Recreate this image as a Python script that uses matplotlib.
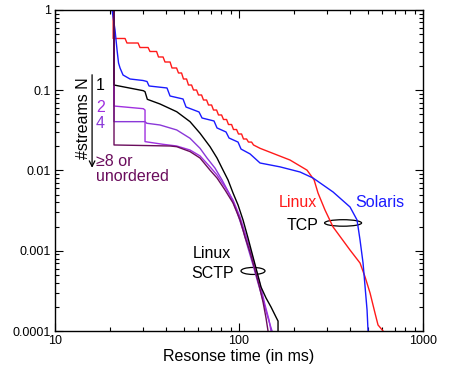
import numpy as np
import matplotlib
matplotlib.use("Agg")
import matplotlib.pyplot as plt
from matplotlib.patches import Ellipse
from matplotlib.transforms import ScaledTranslation

plt.rcParams['font.family'] = ['Liberation Sans', 'DejaVu Sans']

# Linux TCP (red): staircase part (time where each step drops, level after it) ...
red_step_t = [20.7, 24.31, 28.61, 32.43, 36.07, 39.12, 42.70, 46.32, 49.30, 52.49, 55.88, 59.49,
              63.33, 67.43, 71.78, 76.42, 81.35, 86.60, 92.20, 98.13, 104.47, 111.23, 118.42]
red_step_p = [0.4415, 0.3879, 0.3409, 0.3040, 0.2597, 0.2249, 0.1894, 0.1641, 0.1381, 0.1162, 0.1007,
              0.0873, 0.0756, 0.0655, 0.0567, 0.0492, 0.0432, 0.0374, 0.0324, 0.0285, 0.0247, 0.0226, 0.0208]
# ... and the smooth tail
red_tail_t = [130.06, 189.3, 234.2, 255.9, 268.7, 293.2, 324.3, 401.1, 454.6, 484.2, 515.4, 548.3, 569.2, 606.4]
red_tail_p = [0.0189, 0.0135, 0.0101, 0.00762, 0.00524, 0.00322, 0.00198, 0.00102, 0.000703, 0.000471,
              0.000297, 0.000167, 0.000119, 0.0001]

# Solaris TCP (blue)
blue_t = [20.41, 21.19, 21.73, 22.14, 22.56, 23.42, 25.56, 30.08, 31.62, 32.43, 40.61, 42.17, 49.62, 51.52,
          60.61, 62.94, 73.13, 75.93, 84.98, 88.24, 98.76, 102.54, 114.75, 130.06, 167.0, 214.5, 252.5,
          324.3, 401.1, 437.8, 454.6, 472.0, 496.3, 502.5]
blue_p = [1.0, 0.5633, 0.3172, 0.2186, 0.1894, 0.1549, 0.1381, 0.1323, 0.1285, 0.1130, 0.1067, 0.0848,
          0.0778, 0.0618, 0.0536, 0.0451, 0.0414, 0.0339, 0.0302, 0.0254, 0.0226, 0.0185, 0.0161, 0.0124,
          0.0111, 0.00958, 0.00806, 0.00540, 0.00351, 0.00242, 0.00136, 0.000704, 0.000183, 0.0001]

# Linux SCTP, N = 1
sctp1_t = [20.92, 20.92, 30.19, 30.84, 31.74, 37.21, 45.85, 54.16, 61.38, 69.57, 75.93, 80.85, 87.14,
           92.77, 98.76, 105.12, 111.93, 119.15, 125.27, 131.68, 140.18, 149.24, 158.86, 162.92, 162.92]
sctp1_p = [1.0, 0.1162, 0.0987, 0.0959, 0.0771, 0.0674, 0.0540, 0.0406, 0.0291, 0.0198, 0.0143, 0.0107,
           0.00762, 0.00524, 0.00372, 0.00242, 0.00144, 0.000836, 0.000543, 0.000353, 0.000258, 0.000199,
           0.000149, 0.000133, 0.0001]

# Linux SCTP, N = 2
sctp2_t = [20.92, 20.92, 30.19, 30.84, 30.84, 38.64, 45.85, 54.16, 61.38, 69.57, 75.93, 83.95, 92.77,
           101.25, 109.14, 116.19, 123.72, 131.68, 138.43, 145.55, 149.24]
sctp2_p = [1.0, 0.0636, 0.0589, 0.0567, 0.0229, 0.0212, 0.0202, 0.0180, 0.0152, 0.0111, 0.00879, 0.00623,
           0.00429, 0.00263, 0.00153, 0.000965, 0.000575, 0.000343, 0.000211, 0.000137, 0.0001]

# Linux SCTP, N = 4
sctp4_t = [20.92, 20.92, 30.84, 31.50, 37.21, 45.85, 54.16, 61.38, 67.01, 74.06, 80.85, 89.35, 97.53,
           105.12, 111.93, 119.15, 126.84, 135.0, 143.75, 151.11]
sctp4_p = [1.0, 0.0406, 0.0406, 0.0388, 0.0369, 0.0320, 0.0252, 0.0189, 0.0143, 0.0107, 0.00762, 0.00495,
           0.00304, 0.00181, 0.00108, 0.000664, 0.000396, 0.000243, 0.000145, 0.0001]

# Linux SCTP, N >= 8 or unordered
sctp8_t = [20.92, 20.92, 42.17, 45.85, 54.16, 61.38, 69.57, 75.93, 83.95, 92.77, 101.25, 107.79, 114.75,
           122.18, 128.42, 135.0, 140.18, 143.75]
sctp8_p = [1.0, 0.0208, 0.0202, 0.0198, 0.0172, 0.0143, 0.0101, 0.00806, 0.00571, 0.00394, 0.00242,
           0.00148, 0.000965, 0.000575, 0.000374, 0.000230, 0.000145, 0.0001]

# build the red staircase: short slanted drop around each step time
slant = 1.012
red_t = [red_step_t[0], red_step_t[0]]
red_p = [1.0, red_step_p[0]]
for i in range(1, len(red_step_t)):
    red_t += [red_step_t[i] / slant, red_step_t[i] * slant]
    red_p += [red_step_p[i - 1], red_step_p[i]]
red_t += red_tail_t
red_p += red_tail_p

red = '#ff1a1a'
blue = '#1a1aff'
c2 = '#a030e0'
c4 = '#8a38d8'
c8 = '#6a0c5c'

fig = plt.figure(figsize=(4.51, 3.73), dpi=100)
ax = fig.add_axes([0.122, 0.1126, 0.816, 0.8606])

lw = 1.0
ax.plot(red_t, red_p, color=red, lw=lw)
ax.plot(blue_t, blue_p, color=blue, lw=lw)
ax.plot(sctp4_t, sctp4_p, color=c4, lw=lw)
ax.plot(sctp2_t, sctp2_p, color=c2, lw=lw)
ax.plot(sctp1_t, sctp1_p, color='black', lw=lw)
ax.plot(sctp8_t, sctp8_p, color=c8, lw=lw)

ax.set_xscale('log')
ax.set_yscale('log')
ax.set_xlim(10, 1000)
ax.set_ylim(0.0001, 1)

xticks = [10, 100, 1000]
xlabels = ['10', '100', '1000']
yticks = [0.0001, 0.001, 0.01, 0.1, 1]
ylabels = ['0.0001', '0.001', '0.01', '0.1', '1']
ax.set_xticks(xticks)
ax.set_xticklabels(xlabels)
ax.set_yticks(yticks)
ax.set_yticklabels(ylabels)
ax.tick_params(which='both', direction='in', top=True, right=True, labelsize=9, width=0.8)
ax.tick_params(which='major', length=6, pad=3)
ax.tick_params(which='minor', length=3)
for s in ax.spines.values():
    s.set_linewidth(1.0)

ax.set_xlabel('Resonse time (in ms)', fontsize=11.5, labelpad=1)

fs = 11.5
ax.text(209.2, 0.00394, 'Linux', color=red, fontsize=fs, ha='center', va='center')
ax.text(583.7, 0.00394, 'Solaris', color=blue, fontsize=fs, ha='center', va='center')
ax.text(222.8, 0.00209, 'TCP', color='black', fontsize=fs, ha='center', va='center')
ax.text(71.3, 0.000912, 'Linux', color='black', fontsize=fs, ha='center', va='center')
ax.text(72.2, 0.000528, 'SCTP', color='black', fontsize=fs, ha='center', va='center')

# stream-count labels
ax.text(17.6, 0.116, '1', color='black', fontsize=fs, ha='center', va='center')
ax.text(17.6, 0.0618, '2', color=c2, fontsize=fs, ha='center', va='center')
ax.text(17.6, 0.0380, '4', color=c4, fontsize=fs, ha='center', va='center')
ax.text(16.6, 0.0131, '\u22658 or', color=c8, fontsize=fs, ha='left', va='center')
ax.text(16.6, 0.0083, 'unordered', color=c8, fontsize=fs, ha='left', va='center')
ax.text(14.2, 0.0451, '#streams N', color='black', fontsize=fs, rotation=90, ha='center', va='center')
ax.annotate('', xy=(15.9, 0.0108), xytext=(15.9, 0.156),
            arrowprops=dict(arrowstyle='->', color='black', lw=0.9, shrinkA=0, shrinkB=0))

# ellipses marking the curve groups
for (t, p, w, h) in [(367.6, 0.00222, 0.37, 0.065), (119.1, 0.00056, 0.24, 0.07)]:
    tr = fig.dpi_scale_trans + ScaledTranslation(t, p, ax.transData)
    ax.add_patch(Ellipse((0, 0), w, h, transform=tr, fill=False, edgecolor='black', lw=0.9))

fig.savefig('out.png', dpi=100)
